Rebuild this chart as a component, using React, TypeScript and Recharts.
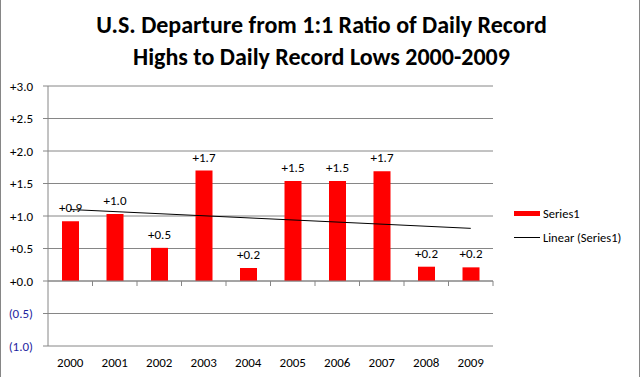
import React from 'react'
import {
    Bar,
    CartesianGrid,
    ComposedChart,
    LabelList,
    ReferenceLine,
    XAxis,
    YAxis,
} from 'recharts'

const years = ['2000', '2001', '2002', '2003', '2004', '2005', '2006', '2007', '2008', '2009']
const departures = [0.92, 1.03, 0.51, 1.7, 0.2, 1.54, 1.54, 1.69, 0.22, 0.21]
const yTicks = [-1, -0.5, 0, 0.5, 1, 1.5, 2, 2.5, 3]
// linear trend end points
const trendStart = 1.1
const trendEnd = 0.81

const data = years.map((year, i) => ({ year, value: departures[i] }))

const FONT = 'Carlito, Calibri, Lato, sans-serif'
const GRID = '#868686'

const fmtValue = (v: number) => (v < 0 ? `(${Math.abs(v).toFixed(1)})` : `+${v.toFixed(1)}`)

const YTick = (props: any) => {
    const { x, y, payload } = props
    const v = payload.value as number
    return (
        <text
            x={x - 8}
            y={y}
            textAnchor="end"
            dominantBaseline="central"
            fontSize={13}
            fontFamily={FONT}
            fill={v < 0 ? '#1F1F9F' : '#000'}
        >
            {fmtValue(v)}
        </text>
    )
}

const XTick = (props: any) => {
    const { x, y, payload } = props
    return (
        <text x={x} y={y + 13} textAnchor="middle" fontSize={13} fontFamily={FONT} fill="#000">
            {payload.value}
        </text>
    )
}

// zero line with small tick marks between the categories
const ZeroAxis = (props: any) => {
    const { x1, y1, x2 } = props
    const step = (x2 - x1) / years.length
    return (
        <g>
            <line x1={x1} y1={y1} x2={x2} y2={y1} stroke={GRID} strokeWidth={1} />
            {years.map((_, i) => (
                <line
                    key={i}
                    x1={x1 + step * (i + 1)}
                    x2={x1 + step * (i + 1)}
                    y1={y1}
                    y2={y1 + 5}
                    stroke={GRID}
                />
            ))}
        </g>
    )
}

const LegendBox = () => (
    <div
        style={{
            position: 'absolute',
            left: 514,
            top: 205,
            fontFamily: FONT,
            fontSize: 12.5,
            color: '#000',
        }}
    >
        <div style={{ display: 'flex', alignItems: 'center', height: 16 }}>
            <span style={{ width: 26, height: 5, background: '#FF0000', marginRight: 3 }} />
            <span>Series1</span>
        </div>
        <div style={{ display: 'flex', alignItems: 'center', height: 16, marginTop: 8 }}>
            <span style={{ width: 26, height: 1, background: '#000', marginRight: 3 }} />
            <span>Linear (Series1)</span>
        </div>
    </div>
)

export default function App() {
    return (
        <div
            style={{
                position: 'absolute',
                left: 0,
                top: 0,
                width: 643,
                height: 377,
                background: '#fff',
            }}
        >
            <div
                style={{
                    position: 'absolute',
                    left: 0,
                    top: 0,
                    width: 638,
                    height: 377,
                    borderLeft: `1px solid ${GRID}`,
                    borderRight: `1px solid ${GRID}`,
                }}
            />
            <div
                style={{
                    position: 'absolute',
                    left: 0,
                    top: 9,
                    width: 643,
                    textAlign: 'center',
                    fontFamily: FONT,
                    fontWeight: 'bold',
                    fontSize: 24,
                    lineHeight: '32px',
                    color: '#000',
                }}
            >
                U.S. Departure from 1:1 Ratio of Daily Record
                <br />
                Highs to Daily Record Lows 2000-2009
            </div>
            <ComposedChart
                width={643}
                height={377}
                data={data}
                margin={{ top: 86, right: 150, bottom: 11, left: 8 }}
                style={{ position: 'absolute', left: 0, top: 0 }}
            >
                <CartesianGrid vertical={false} stroke={GRID} />
                <XAxis
                    dataKey="year"
                    axisLine={false}
                    tickLine={false}
                    height={20}
                    tick={<XTick />}
                    interval={0}
                />
                <YAxis
                    width={40}
                    domain={[-1, 3]}
                    ticks={yTicks}
                    interval={0}
                    axisLine={{ stroke: GRID }}
                    tickLine={{ stroke: GRID }}
                    tickSize={5}
                    tick={<YTick />}
                />
                <Bar dataKey="value" fill="#FF0000" barSize={17} isAnimationActive={false}>
                    <LabelList
                        dataKey="value"
                        position="top"
                        offset={9}
                        formatter={(v: any) => fmtValue(Number(v))}
                        style={{ fontFamily: FONT, fontSize: 13, fill: '#000' }}
                    />
                </Bar>
                <ReferenceLine y={0} shape={<ZeroAxis />} />
                <ReferenceLine
                    segment={[
                        { x: years[0], y: trendStart },
                        { x: years[years.length - 1], y: trendEnd },
                    ]}
                    stroke="#000"
                    strokeWidth={1}
                />
            </ComposedChart>
            <LegendBox />
        </div>
    )
}
